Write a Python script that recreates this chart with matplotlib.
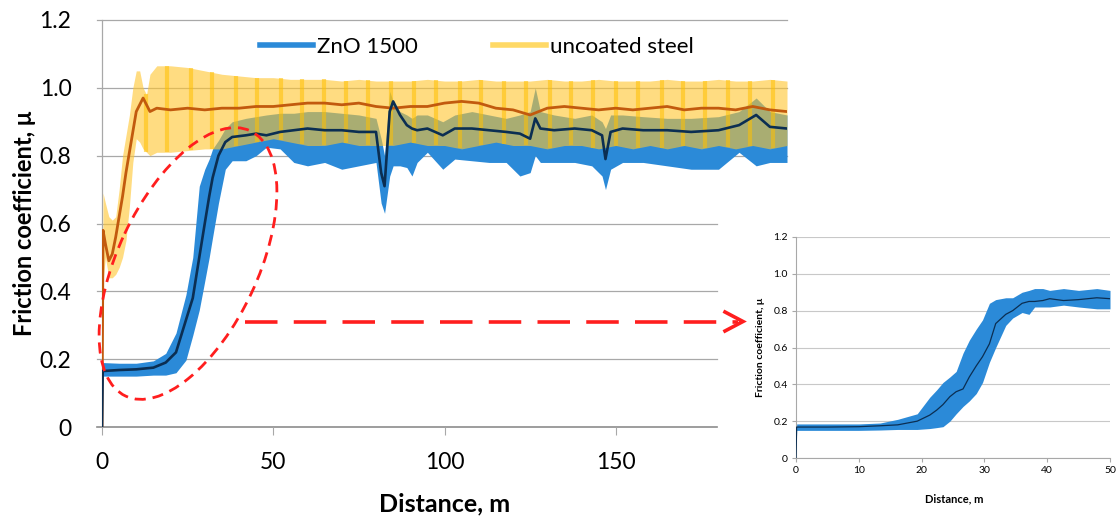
import numpy as np
import matplotlib
matplotlib.use("Agg")
import matplotlib.pyplot as plt
from matplotlib.patches import Ellipse
from matplotlib.lines import Line2D

plt.rcParams['font.family'] = ['Lato', 'DejaVu Sans']

# ---- uncoated steel (main chart) ----
steel_x = [0, 0.3, 1, 2, 3, 4, 5, 6, 7, 8, 9, 10, 11, 12, 13, 14, 16, 20, 25, 30, 35, 40, 45, 50,
           55, 60, 65, 70, 75, 80, 85, 90, 95, 100, 105, 110, 115, 120, 125, 130, 135, 140, 145,
           150, 155, 160, 165, 170, 175, 180, 185, 190, 195, 200]
steel_mean = [0, 0.58, 0.54, 0.49, 0.51, 0.56, 0.62, 0.68, 0.75, 0.81, 0.87, 0.93, 0.95, 0.97, 0.95,
              0.93, 0.94, 0.935, 0.94, 0.935, 0.94, 0.94, 0.945, 0.945, 0.95, 0.955, 0.955, 0.95,
              0.955, 0.945, 0.94, 0.945, 0.945, 0.955, 0.96, 0.955, 0.94, 0.935, 0.92, 0.94, 0.945,
              0.94, 0.935, 0.94, 0.935, 0.94, 0.945, 0.935, 0.94, 0.94, 0.935, 0.945, 0.935, 0.93]
steel_low = [0, 0.43, 0.5, 0.44, 0.44, 0.45, 0.47, 0.5, 0.55, 0.65, 0.78, 0.85, 0.84, 0.82, 0.81,
             0.80, 0.81, 0.81, 0.815, 0.82, 0.82, 0.83, 0.84, 0.85, 0.84, 0.83, 0.83, 0.84, 0.83,
             0.83, 0.83, 0.84, 0.83, 0.83, 0.82, 0.83, 0.84, 0.83, 0.83, 0.82, 0.83, 0.83, 0.82,
             0.83, 0.82, 0.83, 0.82, 0.83, 0.82, 0.83, 0.82, 0.83, 0.82, 0.83]
steel_high = [0, 0.69, 0.66, 0.62, 0.61, 0.62, 0.70, 0.80, 0.86, 0.92, 1.0, 1.05, 1.05, 1.0, 0.98,
              1.04, 1.065, 1.065, 1.06, 1.05, 1.04, 1.035, 1.03, 1.03, 1.025, 1.025, 1.025, 1.02,
              1.025, 1.02, 1.02, 1.02, 1.025, 1.02, 1.02, 1.025, 1.02, 1.02, 1.02, 1.025, 1.02,
              1.02, 1.025, 1.02, 1.02, 1.02, 1.025, 1.02, 1.02, 1.025, 1.02, 1.02, 1.025, 1.02]
# periodic spikes in the steel signal
steel_spikes = [12.9, 19.0, 26.0, 32.2, 39.2, 45.3, 52.3, 58.5, 64.9, 71.3, 77.8, 84.5, 91.2, 97.6,
                104.4, 110.7, 117.5, 123.9, 130.7, 137.0, 143.4, 150.2, 156.5, 163.4, 169.7,
                176.0, 182.8, 189.2, 196.0]

# ---- ZnO 1500 (main chart) ----
zno_x = [0, 0.2, 5, 10, 15, 18.6, 21.6, 24.5, 26.5, 28.4, 30, 31.3, 32.3, 34, 36, 38, 42, 45, 48,
         52, 56, 60, 65, 70, 75, 80, 81.5, 82.5, 84, 85, 87, 89, 90.5, 92, 95, 99.5, 103, 108, 113,
         118, 122, 125, 126.5, 128, 132, 138, 143, 146, 147, 148.5, 152, 158, 165, 172, 180, 186,
         191, 195, 200]
zno_low = [0, 0.15, 0.15, 0.15, 0.153, 0.153, 0.16, 0.197, 0.27, 0.345, 0.43, 0.5, 0.56, 0.66,
           0.76, 0.785, 0.785, 0.8, 0.825, 0.82, 0.78, 0.77, 0.78, 0.76, 0.77, 0.78, 0.66, 0.63,
           0.74, 0.77, 0.77, 0.765, 0.74, 0.78, 0.81, 0.76, 0.79, 0.785, 0.78, 0.78, 0.74, 0.75,
           0.8, 0.78, 0.78, 0.78, 0.77, 0.74, 0.70, 0.76, 0.78, 0.78, 0.77, 0.76, 0.76, 0.81, 0.77,
           0.78, 0.78]
zno_high = [0, 0.19, 0.188, 0.188, 0.195, 0.217, 0.277, 0.39, 0.5, 0.71, 0.76, 0.79, 0.82, 0.845,
            0.88, 0.9, 0.91, 0.915, 0.92, 0.925, 0.925, 0.93, 0.93, 0.925, 0.92, 0.91, 0.85, 0.8,
            0.99, 0.96, 0.93, 0.92, 0.91, 0.92, 0.92, 0.90, 0.92, 0.93, 0.92, 0.91, 0.92, 0.93,
            1.0, 0.93, 0.92, 0.91, 0.92, 0.9, 0.88, 0.92, 0.92, 0.915, 0.91, 0.91, 0.915, 0.93,
            0.97, 0.93, 0.92]
zno_mean = [0, 0.165, 0.168, 0.17, 0.175, 0.19, 0.22, 0.315, 0.38, 0.5, 0.6, 0.68, 0.735, 0.8,
            0.84, 0.855, 0.86, 0.865, 0.86, 0.87, 0.875, 0.88, 0.875, 0.875, 0.87, 0.87, 0.75,
            0.71, 0.93, 0.96, 0.92, 0.89, 0.88, 0.875, 0.88, 0.86, 0.88, 0.88, 0.875, 0.87, 0.865,
            0.85, 0.91, 0.88, 0.875, 0.88, 0.875, 0.86, 0.79, 0.87, 0.88, 0.875, 0.875, 0.87,
            0.875, 0.89, 0.92, 0.885, 0.88]

# ---- ZnO 1500, first 50 m (inset) ----
ins_x = [0, 0.1, 5, 10, 13.4, 16.2, 19.3, 21.3, 22.4, 23.4, 24.5, 25.5, 26.6, 27.6, 28.7, 29.7,
         30.8, 31.8, 33.4, 34.5, 36, 37.1, 38, 39.3, 40.4, 42.6, 45, 47.9, 50]
ins_low = [0, 0.15, 0.15, 0.15, 0.152, 0.155, 0.155, 0.16, 0.165, 0.17, 0.2, 0.24, 0.28, 0.31,
           0.35, 0.41, 0.52, 0.6, 0.72, 0.76, 0.79, 0.78, 0.82, 0.82, 0.82, 0.83, 0.82, 0.81, 0.81]
ins_high = [0, 0.185, 0.185, 0.185, 0.19, 0.21, 0.24, 0.33, 0.37, 0.41, 0.44, 0.47, 0.57, 0.64,
            0.7, 0.75, 0.84, 0.86, 0.87, 0.87, 0.9, 0.91, 0.92, 0.92, 0.91, 0.92, 0.91, 0.92, 0.91]
ins_mean = [0, 0.168, 0.168, 0.17, 0.175, 0.18, 0.2, 0.233, 0.26, 0.29, 0.333, 0.36, 0.375, 0.44,
            0.5, 0.55, 0.62, 0.73, 0.78, 0.80, 0.84, 0.85, 0.85, 0.855, 0.865, 0.855, 0.86, 0.87,
            0.865]

yticks = [0, 0.2, 0.4, 0.6, 0.8, 1.0, 1.2]
ytick_labels = ['0', '0.2', '0.4', '0.6', '0.8', '1.0', '1.2']
main_xticks = [0, 50, 100, 150]
inset_xticks = [0, 10, 20, 30, 40, 50]

blue = '#2B8AD8'
navy = '#0B2E52'
yellow = '#FFC52E'
orange = '#C25A0E'
grid_c = '#A8A8A8'
red = '#FF1E1E'

fig = plt.figure(figsize=(11.2, 5.17), dpi=100)

# ---------------- main chart ----------------
ax = fig.add_axes([102/1120, 90/517, 685/1120, 407/517])
ax.set_xlim(0, 200)
ax.set_ylim(0, 1.2)
for s in ['top', 'right', 'bottom']:
    ax.spines[s].set_visible(False)
ax.spines['left'].set_color(grid_c)
ax.spines['left'].set_linewidth(0.9)

short = 0.898  # lower grid lines stop before the right edge
for y in yticks:
    xm = short if y <= 0.6 else 1.0
    ax.axhline(y, xmin=-0.008, xmax=xm, color=grid_c if y > 0 else '#8C8C8C',
               lw=0.9 if y > 0 else 1.2, zorder=0, clip_on=False)

ax.fill_between(zno_x, zno_low, zno_high, color=blue, lw=0, zorder=2)
ax.fill_between(steel_x, steel_low, steel_high, color=yellow, alpha=0.6, lw=0, zorder=3)
sp_lo = np.interp(steel_spikes, steel_x, steel_low)
sp_hi = np.interp(steel_spikes, steel_x, steel_high)
ax.vlines(steel_spikes, sp_lo, sp_hi, color='#FFC000', alpha=0.55, lw=3, zorder=3)
ax.plot(steel_x, steel_mean, color=orange, lw=2.0, zorder=4)
ax.plot(zno_x, zno_mean, color=navy, lw=1.9, zorder=5)

ax.set_xticks(main_xticks)
ax.set_yticks(yticks)
ax.set_yticklabels(ytick_labels)
ax.tick_params(axis='x', length=6, color=grid_c, labelsize=16.5, pad=12)
ax.tick_params(axis='y', length=0, labelsize=16.5, pad=22)
ax.set_xlabel('Distance, m', fontsize=18, fontweight='bold')
ax.set_ylabel('Friction coefficient, μ', fontsize=17, fontweight='bold')
ax.xaxis.set_label_coords(0.5, -0.16)
ax.yaxis.set_label_coords(-0.097, 0.5)

handles = [Line2D([], [], color=blue, lw=4), Line2D([], [], color='#FFD966', lw=4)]
ax.legend(handles, ['ZnO 1500', 'uncoated steel'], loc='center', bbox_to_anchor=(0.547, 0.934),
          ncol=2, frameon=False, fontsize=16, handlelength=2.4, handletextpad=0.15,
          columnspacing=3.4)

# ---------------- inset ----------------
ax2 = fig.add_axes([796/1120, 59/517, 314/1120, 221/517])
ax2.set_xlim(0, 50)
ax2.set_ylim(0, 1.2)
for s in ['top', 'right']:
    ax2.spines[s].set_visible(False)
for s in ['left', 'bottom']:
    ax2.spines[s].set_color(grid_c)
    ax2.spines[s].set_linewidth(0.8)
ax2.set_yticks(yticks)
ax2.set_yticklabels(ytick_labels)
ax2.set_xticks(inset_xticks)
ax2.grid(axis='y', color='#C8C8C8', lw=0.8)
ax2.set_axisbelow(True)
ax2.fill_between(ins_x, ins_low, ins_high, color=blue, lw=0, zorder=2)
ax2.plot(ins_x, ins_mean, color=navy, lw=0.9, zorder=3)
ax2.tick_params(length=3, color=grid_c, labelsize=7.5, pad=3)
ax2.set_xlabel('Distance, m', fontsize=8, fontweight='bold')
ax2.set_ylabel('Friction coefficient, μ', fontsize=7.5, fontweight='bold')
ax2.xaxis.set_label_coords(0.503, -0.16)
ax2.yaxis.set_label_coords(-0.1, 0.5)

# ---------------- red annotation (pixel overlay) ----------------
ov = fig.add_axes([0, 0, 1, 1], zorder=10)
ov.set_xlim(0, 1120)
ov.set_ylim(517, 0)
ov.axis('off')
ov.patch.set_alpha(0)
ov.add_patch(Ellipse((188, 263.5), 293, 140, angle=-64.8, fill=False, edgecolor=red,
                     lw=2, linestyle=(0, (4, 2.5))))
ov.plot([245, 738], [321.5, 321.5], color=red, lw=2.6, linestyle=(0, (9, 4.5)))
ov.plot([725, 743, 725], [312, 321.5, 331], color=red, lw=2.6, solid_joinstyle='miter')

fig.savefig('out.png', dpi=100)
